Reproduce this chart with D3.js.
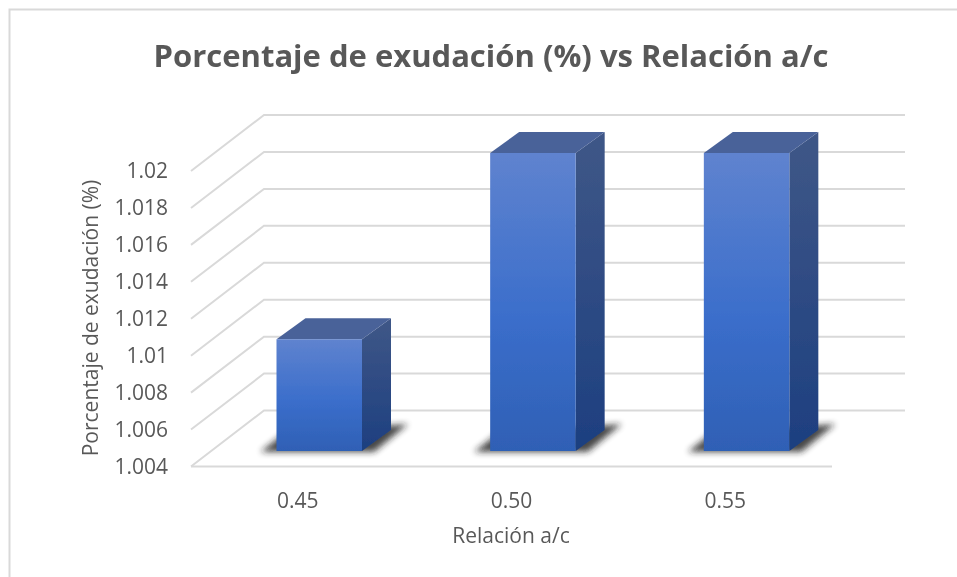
<!DOCTYPE html>
<html><head><meta charset="utf-8">
<script src="https://cdn.jsdelivr.net/npm/d3@7"></script>
<style>html,body{margin:0;padding:0;background:#fff}svg{display:block}text{font-family:"Open Sans","Noto Sans",sans-serif;fill:#595959}</style>
</head><body><script>
const categories = ["0.45","0.50","0.55"];
const values = [1.01,1.02,1.02];
const tickValues = [1.004,1.006,1.008,1.01,1.012,1.014,1.016,1.018,1.02];
const tickLabels = ["1.004","1.006","1.008","1.01","1.012","1.014","1.016","1.018","1.02"];
const chartTitle = "Porcentaje de exudación (%) vs Relación a/c";
const xTitle = "Relación a/c";
const yTitle = "Porcentaje de exudación (%)";

const W=957,H=577;
const svg=d3.select("body").append("svg").attr("width",W).attr("height",H);
const defs=svg.append("defs");
function grad(id,stops){const g=defs.append("linearGradient").attr("id",id).attr("gradientUnits","objectBoundingBox").attr("x1",0).attr("y1",0).attr("x2",0).attr("y2",1);
 stops.forEach(s=>g.append("stop").attr("offset",s[0]).attr("stop-color",s[1]));}
grad("front",[[0,"#5f83cf"],[0.55,"#3b6ecb"],[1,"#2f60b5"]]);
grad("side",[[0,"#3f5787"],[1,"#1d3f80"]]);
defs.append("filter").attr("id","soft").attr("x","-5%").attr("y","-5%").attr("width","110%").attr("height","110%").append("feGaussianBlur").attr("stdDeviation",0.45);
defs.append("filter").attr("id","softText").attr("x","-5%").attr("y","-5%").attr("width","110%").attr("height","110%").append("feGaussianBlur").attr("stdDeviation",0.3);
const sb=defs.append("filter").attr("id","shadowBlur").attr("x","-30%").attr("y","-30%").attr("width","160%").attr("height","160%");
sb.append("feGaussianBlur").attr("stdDeviation",3);

// frame
svg.append("path").attr("d",`M9.5,${H}V9.5H${W}`).attr("fill","none").attr("stroke","#d9d9d9").attr("stroke-width",2);

// scales
const band=d3.scaleBand().domain(categories).range([191,832]);
const yFront=d3.scaleLinear().domain([1.004,1.02]).range([466.5,171]);
const yBar=d3.scaleLinear().domain([1.004,1.02]).range([451,153]);
const depth={dx:73,dy:-56};
const barDepth={dx:29,dy:-21};
const barX=c=>band(c)+85.5;
const barW=85.5;

const root=svg.append("g").attr("filter","url(#soft)");
// gridlines
const grid=root.append("g").attr("fill","none").attr("stroke","#d9d9d9").attr("stroke-width",2);
grid.selectAll("path").data(tickValues).join("path")
  .attr("d",(v,i)=>{const y=yFront(v);const pts=[[191,y],[191+depth.dx,y+depth.dy],[832+depth.dx,y+depth.dy]];
    return d3.line()(pts);});
grid.append("path").attr("d",d3.line()([[191,466.5],[832,466.5]]));

// bars
const bars=root.selectAll("g.bar").data(categories.map((c,i)=>({c,v:values[i]}))).join("g").attr("class","bar");
bars.append("path").attr("fill","#1a1a1a").attr("opacity",0.8).attr("filter","url(#shadowBlur)")
  .attr("d",d=>{const l=barX(d.c),r=l+barW,b=yBar.range()[0];
    return d3.line()([[l-16,b+1],[l+8,b-18],[r+46,b-27],[r+12,b+1]])+"Z";});
bars.append("path").attr("fill","url(#side)")
  .attr("d",d=>{const r=barX(d.c)+barW,b=yBar(1.004),t=yBar(d.v);
    return d3.line()([[r,t],[r+barDepth.dx,t+barDepth.dy],[r+barDepth.dx,b+barDepth.dy],[r,b]])+"Z";});
bars.append("path").attr("fill","#4a6299")
  .attr("d",d=>{const l=barX(d.c),r=l+barW,t=yBar(d.v);
    return d3.line()([[l,t],[l+barDepth.dx,t+barDepth.dy],[r+barDepth.dx,t+barDepth.dy],[r,t]])+"Z";});
bars.append("rect").attr("fill","url(#front)")
  .attr("x",d=>barX(d.c)).attr("width",barW)
  .attr("y",d=>yBar(d.v)).attr("height",d=>yBar(1.004)-yBar(d.v));

// text
const txt=svg.append("g").attr("filter","url(#softText)");
txt.append("text").attr("x",491).attr("y",67).attr("text-anchor","middle").attr("font-size",31).attr("font-weight",700).text(chartTitle);
txt.selectAll("text.ytick").data(tickValues).join("text").attr("class","ytick")
  .attr("x",168).attr("y",v=>yFront(v)+7).attr("text-anchor","end").attr("font-size",21).text((v,i)=>tickLabels[i]);
txt.selectAll("text.xtick").data(categories).join("text").attr("class","xtick")
  .attr("x",c=>band(c)+band.bandwidth()/2).attr("y",508).attr("text-anchor","middle").attr("font-size",21).text(c=>c);
txt.append("text").attr("x",511).attr("y",543).attr("text-anchor","middle").attr("font-size",21).text(xTitle);
txt.append("text").attr("transform","translate(98,318) rotate(-90)").attr("text-anchor","middle").attr("font-size",21).text(yTitle);
</script></body></html>
